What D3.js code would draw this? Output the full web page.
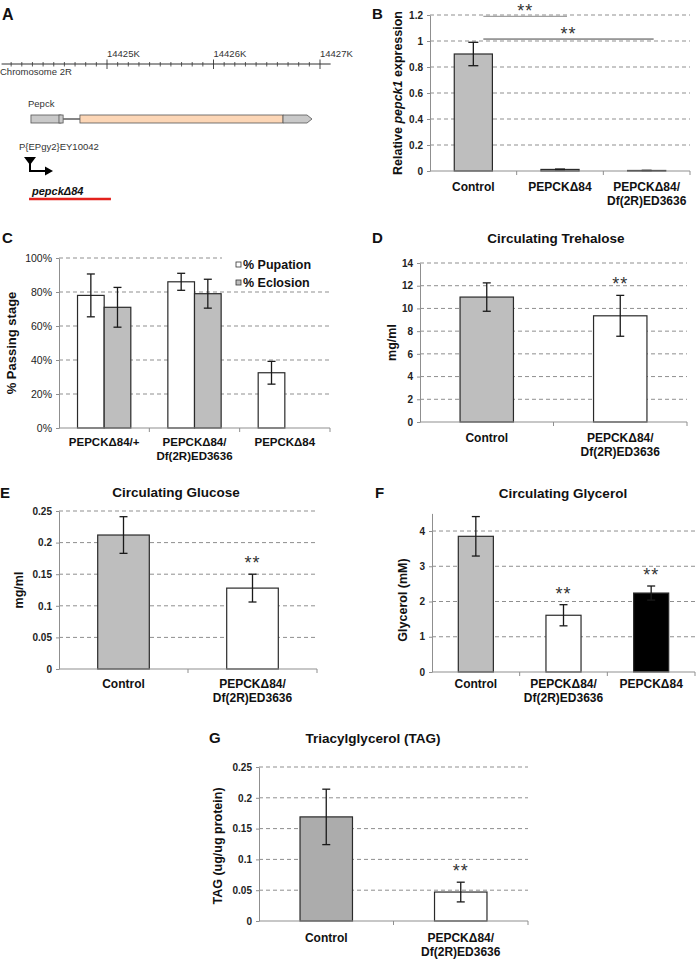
<!DOCTYPE html>
<html><head><meta charset="utf-8">
<script src="https://cdn.jsdelivr.net/npm/d3@7"></script>
<style>
body{margin:0;background:#fff;}
svg{display:block;}
</style></head><body>
<svg id="fig" width="696" height="960"></svg>
<script>
// ---------------- DATA ----------------
// Panel A: genomic coordinates (kb)
const chromMajorK = [14425, 14426, 14427];
const chromExtentK = [14424.01, 14427.1];
const geneUTR5 = [14424.286, 14424.568];
const geneSmallExon = [14424.549, 14424.588];
const geneIntron = [14424.588, 14424.746];
const geneCDS = [14424.746, 14426.653];
const geneUTR3 = [14426.653, 14426.925];
const insertionK = 14424.277;
const deletionK = [14424.268, 14425.037];

// Panel B
const bCategories = [["Control"], ["PEPCKΔ84"], ["PEPCKΔ84/", "Df(2R)ED3636"]];
const bValues = [0.90, 0.012, 0.004];
const bErrors = [0.09, 0.003, 0.001];
const bTicks = [0, 0.2, 0.4, 0.6, 0.8, 1, 1.2];
const bSig = [{from: 0, to: 1, y: 1.19}, {from: 0, to: 2, y: 1.015}];

// Panel C
const cCategories = [["PEPCKΔ84/+"], ["PEPCKΔ84/", "Df(2R)ED3636"], ["PEPCKΔ84"]];
const cSeries = ["% Pupation", "% Eclosion"];
const cPupation = [78, 86, 32.5];
const cPupationErr = [12.6, 5, 6.7];
const cEclosion = [71, 79, 0];
const cEclosionErr = [11.7, 8.5, 0];
const cTicks = [0, 20, 40, 60, 80, 100];

// Panel D
const dCategories = [["Control"], ["PEPCKΔ84/", "Df(2R)ED3636"]];
const dValues = [11.0, 9.35];
const dErrors = [1.25, 1.8];
const dTicks = [0, 2, 4, 6, 8, 10, 12, 14];
const dSig = [false, true];

// Panel E
const eCategories = [["Control"], ["PEPCKΔ84/", "Df(2R)ED3636"]];
const eValues = [0.212, 0.128];
const eErrors = [0.029, 0.022];
const eTicks = [0, 0.05, 0.1, 0.15, 0.2, 0.25];
const eSig = [false, true];

// Panel F
const fCategories = [["Control"], ["PEPCKΔ84/", "Df(2R)ED3636"], ["PEPCKΔ84"]];
const fValues = [3.85, 1.61, 2.24];
const fErrors = [0.56, 0.30, 0.20];
const fTicks = [0, 1, 2, 3, 4];
const fSig = [false, true, true];

// Panel G
const gCategories = [["Control"], ["PEPCKΔ84/", "Df(2R)ED3636"]];
const gValues = [0.169, 0.047];
const gErrors = [0.045, 0.016];
const gTicks = [0, 0.05, 0.1, 0.15, 0.2, 0.25];
const gSig = [false, true];

// ---------------- DRAWING ----------------
const FONT = "'Liberation Sans', Arial, Helvetica, sans-serif";
const GRAY = "#bebebe";
const svg = d3.select("#fig").attr("font-family", FONT);

function letter(t, x, y, size) {
  svg.append("text").attr("x", x).attr("y", y).attr("font-size", size || 15)
    .attr("font-weight", "bold").attr("fill", "#111").text(t);
}
function stars(g, x, cy) {
  g.append("text").attr("x", x).attr("y", cy + 10).attr("text-anchor", "middle")
    .attr("font-size", 18).attr("fill", "#333").attr("letter-spacing", 1).text("**");
}

// ---- Panel A ----
(function () {
  const xA = d3.scaleLinear().domain([14424, 14427]).range([0.5, 320]);
  const g = svg.append("g");
  const ly = 64;
  g.append("line").attr("x1", xA(chromExtentK[0])).attr("x2", xA(chromExtentK[1]))
    .attr("y1", ly).attr("y2", ly).attr("stroke", "#333").attr("stroke-width", 1);
  const minor = xA.ticks(30).filter(k => k > 14424.05 && !chromMajorK.some(m => Math.abs(m - k) < 1e-6));
  g.selectAll(".mn").data(minor).join("line")
    .attr("x1", d => xA(d)).attr("x2", d => xA(d)).attr("y1", ly - 2).attr("y2", ly + 2.5)
    .attr("stroke", "#333").attr("stroke-width", 0.8);
  g.selectAll(".mj").data(chromMajorK).join("line")
    .attr("x1", d => xA(d)).attr("x2", d => xA(d)).attr("y1", ly - 4.5).attr("y2", ly + 5)
    .attr("stroke", "#333").attr("stroke-width", 0.9);
  g.selectAll(".ml").data(chromMajorK).join("text")
    .attr("x", d => xA(d)).attr("y", 57).attr("font-size", 9.5).attr("fill", "#333")
    .text(d => d + "K");
  g.append("text").attr("x", 0).attr("y", 75).attr("font-size", 9.5).attr("fill", "#333").text("Chromosome 2R");
  g.append("text").attr("x", 28).attr("y", 107).attr("font-size", 9.5).attr("fill", "#333").text("Pepck");

  const gy = 119, gh = 8;
  g.append("line").attr("x1", xA(geneIntron[0])).attr("x2", xA(geneIntron[1]))
    .attr("y1", gy).attr("y2", gy).attr("stroke", "#333").attr("stroke-width", 1.2);
  g.append("rect").attr("x", xA(geneUTR5[0])).attr("y", gy - gh / 2)
    .attr("width", xA(geneUTR5[1]) - xA(geneUTR5[0])).attr("height", gh)
    .attr("fill", "#c9c9c9").attr("stroke", "#555").attr("stroke-width", 0.8);
  g.append("rect").attr("x", xA(geneSmallExon[0])).attr("y", gy - gh / 2)
    .attr("width", xA(geneSmallExon[1]) - xA(geneSmallExon[0])).attr("height", gh)
    .attr("fill", "#c9c9c9").attr("stroke", "#555").attr("stroke-width", 0.8);
  g.append("rect").attr("x", xA(geneCDS[0])).attr("y", gy - gh / 2)
    .attr("width", xA(geneCDS[1]) - xA(geneCDS[0])).attr("height", gh)
    .attr("fill", "#fcd6b6").attr("stroke", "#555").attr("stroke-width", 0.8);
  const u0 = xA(geneUTR3[0]), u1 = xA(geneUTR3[1]);
  g.append("polygon")
    .attr("points", [[u0, gy - gh / 2], [u1 - 5, gy - gh / 2], [u1, gy], [u1 - 5, gy + gh / 2], [u0, gy + gh / 2]].map(p => p.join(",")).join(" "))
    .attr("fill", "#c9c9c9").attr("stroke", "#555").attr("stroke-width", 0.8);

  g.append("text").attr("x", 19).attr("y", 150).attr("font-size", 9.5).attr("fill", "#333").text("P{EPgy2}EY10042");
  const ix = xA(insertionK);
  g.append("polygon").attr("points", `${ix - 6},157 ${ix + 6},157 ${ix},165`).attr("fill", "#000");
  g.append("path").attr("d", `M${ix},163 V171 H48`).attr("fill", "none").attr("stroke", "#000").attr("stroke-width", 2);
  g.append("polygon").attr("points", `45,166.5 53,171 45,175.5`).attr("fill", "#000");
  g.append("text").attr("x", 32).attr("y", 195).attr("font-size", 11).attr("font-weight", "bold")
    .attr("font-style", "italic").attr("fill", "#111").text("pepckΔ84");
  g.append("line").attr("x1", xA(deletionK[0])).attr("x2", xA(deletionK[1]))
    .attr("y1", 199).attr("y2", 199).attr("stroke", "#e3211c").attr("stroke-width", 2.5);
  letter("A", 2, 20, 16);
})();

// ---- generic bar panel ----
function barPanel(o) {
  const g = svg.append("g");
  const x = d3.scaleBand().domain(d3.range(o.categories.length)).range([o.left, o.right]);
  const y = d3.scaleLinear().domain([0, o.max]).range([o.bottom, o.top]);
  const bw = x.bandwidth();
  g.selectAll(".grid").data(o.ticks.filter(t => t > 0)).join("line")
    .attr("x1", o.left).attr("x2", o.right)
    .attr("y1", d => y(d)).attr("y2", d => y(d))
    .attr("stroke", "#8f8f8f").attr("stroke-width", 1).attr("stroke-dasharray", "4,3");
  if (o.preBars) o.preBars(g, x, y);
  const ya = d3.axisLeft(y).tickValues(o.ticks).tickFormat(o.fmt).tickSize(3).tickSizeOuter(0).tickPadding(4);
  const yg = g.append("g").attr("transform", `translate(${o.left},0)`).call(ya)
    .attr("font-family", FONT).attr("font-size", o.tickFont || 10);
  yg.select(".domain").attr("stroke", "#8f8f8f");
  yg.selectAll(".tick line").attr("stroke", "#8f8f8f");
  yg.selectAll(".tick text").attr("fill", "#222").attr("font-weight", o.tickWeight || "bold");
  const nS = o.series.length;
  const groupW = bw * o.barFrac;
  const barW = groupW / nS;
  o.series.forEach((s, si) => {
    const bx = i => x(i) + bw / 2 - groupW / 2 + si * barW;
    g.selectAll(".bar" + si).data(s.values).join("rect")
      .attr("x", (d, i) => bx(i)).attr("width", barW)
      .attr("y", d => y(d)).attr("height", d => y(0) - y(d))
      .attr("fill", (d, i) => Array.isArray(s.fill) ? s.fill[i] : s.fill)
      .attr("stroke", "#2a2a2a").attr("stroke-width", 1.2);
    s.values.forEach((v, i) => {
      const e = s.errors[i];
      if (!e) return;
      const cx = bx(i) + barW / 2;
      const cap = o.cap || 4;
      g.append("line").attr("x1", cx).attr("x2", cx).attr("y1", y(v - e)).attr("y2", y(v + e))
        .attr("stroke", "#1a1a1a").attr("stroke-width", 1.3);
      [v - e, v + e].forEach(t => g.append("line").attr("x1", cx - cap).attr("x2", cx + cap)
        .attr("y1", y(t)).attr("y2", y(t)).attr("stroke", "#1a1a1a").attr("stroke-width", 1.3));
      if (s.sig && s.sig[i]) stars(g, cx, y(v + e) - 15);
    });
  });
  g.append("line").attr("x1", o.left).attr("x2", o.right).attr("y1", o.bottom).attr("y2", o.bottom)
    .attr("stroke", "#8f8f8f").attr("stroke-width", 1);
  const bounds = x.domain().map(i => x(i)).concat([o.right]).filter(v => v > o.left + 1);
  g.selectAll(".xt").data(bounds).join("line")
    .attr("x1", d => d).attr("x2", d => d).attr("y1", o.bottom).attr("y2", o.bottom + 4)
    .attr("stroke", "#8f8f8f").attr("stroke-width", 1);
  o.categories.forEach((lines, i) => {
    const t = g.append("text").attr("x", x(i) + bw / 2).attr("y", o.bottom + (o.labelDy || 19))
      .attr("text-anchor", "middle").attr("font-size", o.catFont || 12).attr("font-weight", "bold").attr("fill", "#111");
    lines.forEach((l, k) => t.append("tspan").attr("x", x(i) + bw / 2).attr("dy", k ? 14 : 0).text(l));
  });
  const tcy = o.titleCY !== undefined ? o.titleCY : (o.top + o.bottom) / 2;
  const yt = g.append("text").attr("transform", `translate(${o.titleX},${tcy}) rotate(-90)`)
    .attr("text-anchor", "middle").attr("dy", "0.36em").attr("font-size", o.yTitleFont || 12.5)
    .attr("font-weight", "bold").attr("fill", "#111");
  o.yTitle.forEach(p => yt.append("tspan").attr("font-style", p.italic ? "italic" : null).text(p.t));
  if (o.title) {
    g.append("text").attr("x", o.title.x).attr("y", o.title.y).attr("text-anchor", "middle")
      .attr("font-size", 13.5).attr("font-weight", "bold").attr("fill", "#111").text(o.title.t);
  }
  return {g, x, y};
}

const fmtNum = d3.format("~f");

// ---- Panel B ----
const pb = barPanel({
  left: 430, right: 690, bottom: 171, top: 15, max: 1.2, ticks: bTicks, fmt: fmtNum,
  categories: bCategories, barFrac: 0.44, cap: 5, labelDy: 20,
  series: [{values: bValues, errors: bErrors, fill: GRAY}],
  yTitle: [{t: "Relative "}, {t: "pepck1", italic: true}, {t: " expression"}], titleX: 397
});
bSig.forEach((s, k) => {
  const x1 = pb.x(s.from) + pb.x.bandwidth() / 2 + 10;
  const x2 = pb.x(s.to) + pb.x.bandwidth() / 2 + 7;
  const yy = pb.y(s.y);
  pb.g.append("line").attr("x1", x1).attr("x2", x2).attr("y1", yy).attr("y2", yy)
    .attr("stroke", k === 0 ? "#8a8a8a" : "#444").attr("stroke-width", 1);
  stars(pb.g, (x1 + x2) / 2, yy - 9);
});
letter("B", 372, 19);

// ---- Panel C ----
barPanel({
  left: 59, right: 330, bottom: 428, top: 258, max: 100, ticks: cTicks, fmt: d => d + "%",
  categories: cCategories, barFrac: 0.59, cap: 4, labelDy: 18, catFont: 11.5,
  tickFont: 10.5, tickWeight: "normal",
  series: [
    {values: cPupation, errors: cPupationErr, fill: "#ffffff"},
    {values: cEclosion, errors: cEclosionErr, fill: GRAY}
  ],
  yTitle: [{t: "% Passing stage"}], titleX: 11, yTitleFont: 13,
  preBars: (g) => {
    g.append("rect").attr("x", 222).attr("y", 254).attr("width", 110).attr("height", 36).attr("fill", "#fff");
  }
});
cSeries.forEach((s, i) => {
  const ly = 264.5 + i * 18;
  svg.append("rect").attr("x", 236).attr("y", ly - 2.5).attr("width", 5).attr("height", 5)
    .attr("fill", i === 0 ? "#fff" : GRAY).attr("stroke", "#333").attr("stroke-width", 0.8);
  svg.append("text").attr("x", 243).attr("y", ly + 4).attr("font-size", 12.5).attr("font-weight", "bold")
    .attr("fill", "#111").text(s);
});
letter("C", 2, 243);

// ---- Panel D ----
barPanel({
  left: 420, right: 687, bottom: 422, top: 263, max: 14, ticks: dTicks, fmt: fmtNum,
  categories: dCategories, barFrac: 0.4, cap: 4, labelDy: 20,
  series: [{values: dValues, errors: dErrors, fill: [GRAY, "#fff"], sig: dSig}],
  yTitle: [{t: "mg/ml"}], titleX: 391,
  title: {t: "Circulating Trehalose", x: 556, y: 243}
});
letter("D", 372, 243);

// ---- Panel E ----
barPanel({
  left: 59, right: 317, bottom: 669, top: 511, max: 0.25, ticks: eTicks, fmt: fmtNum,
  categories: eCategories, barFrac: 0.4, cap: 4, labelDy: 19,
  series: [{values: eValues, errors: eErrors, fill: [GRAY, "#fff"], sig: eSig}],
  yTitle: [{t: "mg/ml"}], titleX: 18,
  title: {t: "Circulating Glucose", x: 176, y: 497}
});
letter("E", 0, 498);

// ---- Panel F ----
barPanel({
  left: 432, right: 695, bottom: 672, top: 513.4, max: 4.5, ticks: fTicks, fmt: fmtNum,
  categories: fCategories, barFrac: 0.4, cap: 4, labelDy: 16,
  series: [{values: fValues, errors: fErrors, fill: [GRAY, "#fff", "#000"], sig: fSig}],
  yTitle: [{t: "Glycerol (mM)"}], titleX: 402, titleCY: 600,
  title: {t: "Circulating Glycerol", x: 563, y: 498}
});
letter("F", 375, 498);

// ---- Panel G ----
barPanel({
  left: 259, right: 528, bottom: 921, top: 767, max: 0.25, ticks: gTicks, fmt: fmtNum,
  categories: gCategories, barFrac: 0.39, cap: 4, labelDy: 21,
  series: [{values: gValues, errors: gErrors, fill: ["#acacac", "#fff"], sig: gSig}],
  yTitle: [{t: "TAG (ug/ug protein)"}], titleX: 217, titleCY: 846,
  title: {t: "Triacylglycerol (TAG)", x: 373, y: 743}
});
letter("G", 209, 743);
</script>
</body></html>
